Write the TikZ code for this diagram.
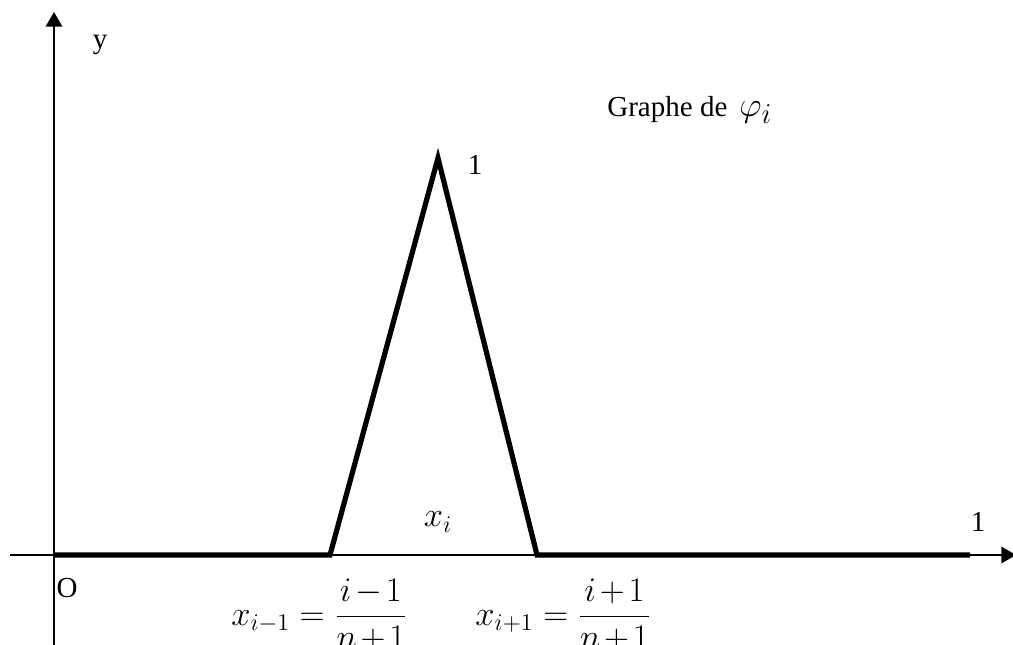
\documentclass[tikz,border=0pt]{standalone}
\usepackage{amsmath}
\usepackage{fontspec}
\setmainfont{Liberation Serif}
\usetikzlibrary{arrows, positioning}

\begin{document}
\begin{tikzpicture}[
    x=0.5pt, y=-0.5pt,
    axis/.style={->, >=triangle 60, line width=1pt},
    graph/.style={line width=2.6pt, line join=miter},
    label/.style={font=\fontsize{14.5}{17}\selectfont, inner sep=0pt},
    formula/.style={font=\fontsize{17}{20}\selectfont, inner sep=0pt}
]
\useasboundingbox (0,0) rectangle (1013,644);

% Axes
\coordinate (xstart) at (10,555);
\coordinate (xend) at (1016,555);
\coordinate (ybottom) at (54,650);
\coordinate (ytop) at (54,12);
\draw[axis] (xstart) -- (xend);
\draw[axis] (ybottom) -- (ytop);

% Hat function
\coordinate (O) at (54,555);
\coordinate (xim) at (330,555);
\coordinate (peak) at (438,158);
\coordinate (xip) at (537,555);
\coordinate (xone) at (970,555);
\draw[graph] (O) -- (xim) -- (peak) -- (xip) -- (xone);

% Labels
\node[label] (ylab) at (100,45) {y};
\node[label, anchor=west] (graphe) at (607,110) {Graphe de \,{\fontsize{19}{22}\selectfont$\varphi_i$}};
\node[label] (peakone) at (475,165) {1};
\node[formula] (xilab) at (438,522) {$x_i$};
\node[label] (onelab) at (978,522) {1};
\node[label] (Olab) at (67,588) {O};
\node[formula, anchor=west] (ximlab) at (231,615) {$x_{i-1}=\dfrac{i\mkern-2mu-\mkern-2mu1}{n\mkern-2mu+\mkern-2mu1}$};
\node[formula, anchor=west] (xiplab) at (475,615) {$x_{i+1}=\dfrac{i\mkern-2mu+\mkern-2mu1}{n\mkern-2mu+\mkern-2mu1}$};

\end{tikzpicture}
\end{document}
